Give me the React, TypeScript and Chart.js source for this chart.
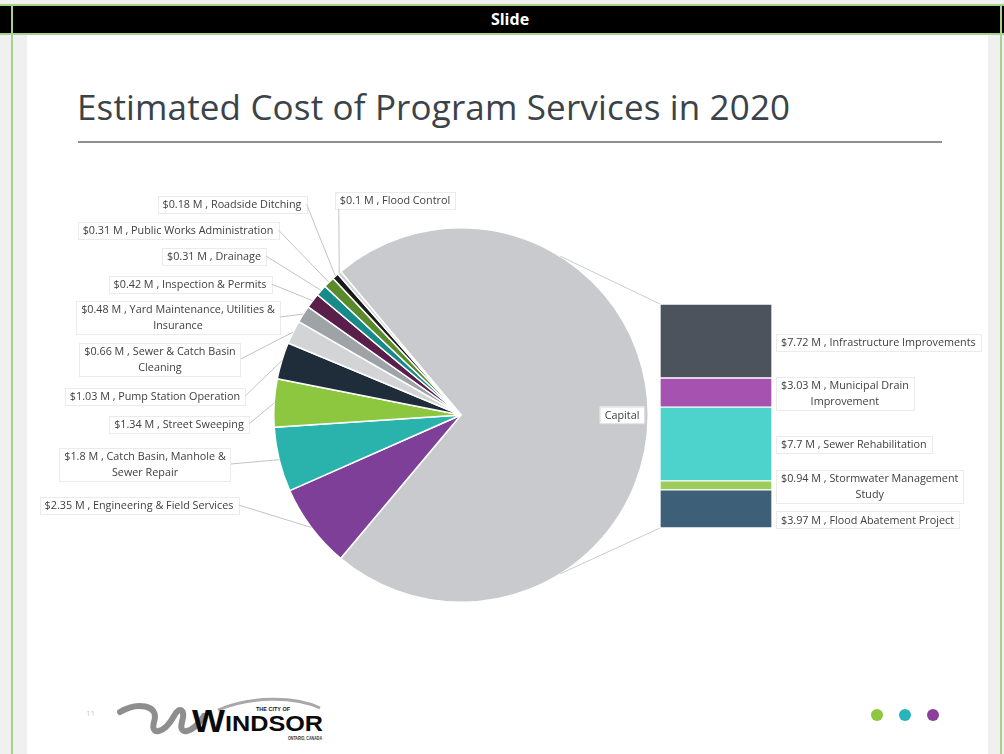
import React, { useEffect, useRef } from "react";
import { Chart, registerables } from "chart.js";

Chart.register(...registerables);

// ---------- DATA ----------
const programLabels = [
  "Engineering & Field Services",
  "Catch Basin, Manhole & Sewer Repair",
  "Street Sweeping",
  "Pump Station Operation",
  "Sewer & Catch Basin Cleaning",
  "Yard Maintenance, Utilities & Insurance",
  "Inspection & Permits",
  "Drainage",
  "Public Works Administration",
  "Roadside Ditching",
  "Flood Control",
];
const programValues = [2.35, 1.8, 1.34, 1.03, 0.66, 0.48, 0.42, 0.31, 0.31, 0.18, 0.1];

// bottom -> top in the stacked bar
const capitalLabels = [
  "Flood Abatement Project",
  "Stormwater Management Study",
  "Sewer Rehabilitation",
  "Municipal Drain Improvement",
  "Infrastructure Improvements",
];
const capitalValues = [3.97, 0.94, 7.7, 3.03, 7.72];
const capitalName = "Capital";

const capitalTotal = capitalValues.reduce((a, b) => a + b, 0);
const pieLabels = [capitalName, ...programLabels];
const pieValues = [capitalTotal, ...programValues];

// ---------- STYLES / LAYOUT ----------
const pieColors = [
  "#c9cacd",
  "#7e3f98",
  "#2ab3ad",
  "#8dc63f",
  "#1f2d3b",
  "#d3d4d6",
  "#9ea3a8",
  "#5a1e4b",
  "#178a8a",
  "#5a8a2a",
  "#1b1b1b",
  "#cfd0d2",
];
const barColors = ["#3e5f78", "#9ccc5c", "#4dd3cc", "#a652b0", "#4d535c"];

const LABEL_FONT = '10.8px "Open Sans"';
const TEXT_COLOR = "#404040";
const LEADER_COLOR = "#c3c3c3";
const BOX_PAD = 10;

// pie canvas placement on page
const PIE_LEFT = 27;
const PIE_TOP = 150;
const PIE_W = 961;
const PIE_H = 490;

// bar canvas placement on page
const BAR_CANVAS_LEFT = 660;
const BAR_CANVAS_TOP = 290;
const BAR_CANVAS_W = 328;
const BAR_CANVAS_H = 250;
const BAR_TOP = 304;
const BAR_BOTTOM = 528;

// label boxes for program slices (page coords): centre x, centre y, words on 2nd line, anchor side
const pieLabelLayout = [
  { cx: 139, cy: 505, wrap: 0, anchor: "right" },
  { cx: 145, cy: 464, wrap: 2, anchor: "right" },
  { cx: 179, cy: 424, wrap: 0, anchor: "right" },
  { cx: 155, cy: 396, wrap: 0, anchor: "right" },
  { cx: 160, cy: 359, wrap: 1, anchor: "right" },
  { cx: 178, cy: 317, wrap: 1, anchor: "right" },
  { cx: 190, cy: 284, wrap: 0, anchor: "right" },
  { cx: 214, cy: 256, wrap: 0, anchor: "right" },
  { cx: 178, cy: 230, wrap: 0, anchor: "right" },
  { cx: 232, cy: 204, wrap: 0, anchor: "right" },
  { cx: 395, cy: 200, wrap: 0, anchor: "bottom" },
];
const barLabelOffsets = [11, 1, 0, 1, 1];
const barLabelWrap = [0, 1, 0, 1, 0];

function fmt(v: number, name: string) {
  return "$" + v + " M , " + name;
}

function splitLines(text: string, wrap: number) {
  if (!wrap) return [text];
  const words = text.split(" ");
  return [words.slice(0, words.length - wrap).join(" "), words.slice(words.length - wrap).join(" ")];
}

function drawBox(ctx: CanvasRenderingContext2D, lines: string[], cx: number, cy: number, align: "center" | "left") {
  ctx.save();
  ctx.font = LABEL_FONT;
  const lh = 16;
  const w = Math.max(...lines.map((l) => ctx.measureText(l).width)) + BOX_PAD;
  const h = lines.length * lh + 1;
  const left = align === "center" ? cx - w / 2 : cx;
  const top = cy - h / 2;
  ctx.fillStyle = "#ffffff";
  ctx.fillRect(left, top, w, h);
  ctx.strokeStyle = "#d6d6d6";
  ctx.lineWidth = 1;
  ctx.setLineDash([1, 1]);
  ctx.strokeRect(Math.round(left) + 0.5, Math.round(top) + 0.5, Math.round(w), Math.round(h));
  ctx.setLineDash([]);
  ctx.fillStyle = TEXT_COLOR;
  ctx.textAlign = "center";
  ctx.textBaseline = "middle";
  lines.forEach((l, i) => {
    ctx.fillText(l, left + w / 2, top + lh / 2 + 1 + i * lh);
  });
  ctx.restore();
  return { left, top, w, h };
}

const piePlugin = {
  id: "pieLabels",
  afterDraw(chart: any) {
    const ctx: CanvasRenderingContext2D = chart.ctx;
    const meta = chart.getDatasetMeta(0);
    const arcs = meta.data;
    const c0 = arcs[0].getProps(["x", "y", "outerRadius"], true);
    const cx = c0.x;
    const cy = c0.y;
    const r = c0.outerRadius;

    // series lines to the bar
    ctx.save();
    ctx.strokeStyle = "#c8ccd0";
    ctx.lineWidth = 1;
    const a = (58 * Math.PI) / 180;
    const bx = BAR_CANVAS_LEFT - PIE_LEFT;
    ctx.beginPath();
    ctx.moveTo(cx + r * Math.cos(-a), cy + r * Math.sin(-a));
    ctx.lineTo(bx, BAR_TOP - PIE_TOP);
    ctx.moveTo(cx + r * Math.cos(a), cy + r * Math.sin(a));
    ctx.lineTo(bx, BAR_BOTTOM - PIE_TOP);
    ctx.stroke();
    ctx.restore();

    // capital label inside slice
    const cap = arcs[0].getProps(["startAngle", "endAngle"], true);
    const cm = (cap.startAngle + cap.endAngle) / 2;
    drawBox(ctx, [capitalName], cx + r * 0.86 * Math.cos(cm), cy + r * 0.86 * Math.sin(cm), "center");

    // program labels with leader lines
    ctx.font = LABEL_FONT;
    programLabels.forEach((name, i) => {
      const arc = arcs[i + 1].getProps(["startAngle", "endAngle"], true);
      const mid = (arc.startAngle + arc.endAngle) / 2;
      const ex = cx + r * Math.cos(mid);
      const ey = cy + r * Math.sin(mid);
      const lay = pieLabelLayout[i];
      const lines = splitLines(fmt(programValues[i], name), lay.wrap);
      const w = Math.max(...lines.map((l) => ctx.measureText(l).width)) + BOX_PAD;
      const h = lines.length * 16 + 1;
      const bxc = lay.cx - PIE_LEFT;
      const byc = lay.cy - PIE_TOP;
      let ax = bxc + w / 2;
      let ay = byc;
      if (lay.anchor === "bottom") {
        ax = bxc - w / 2 + 4;
        ay = byc + h / 2;
      }
      ctx.save();
      ctx.strokeStyle = LEADER_COLOR;
      ctx.lineWidth = 1;
      ctx.beginPath();
      ctx.moveTo(ax, ay);
      ctx.lineTo(ex, ey);
      ctx.stroke();
      ctx.restore();
      drawBox(ctx, lines, bxc, byc, "center");
    });
  },
};

const barPlugin = {
  id: "barLabels",
  afterDraw(chart: any) {
    const ctx: CanvasRenderingContext2D = chart.ctx;
    capitalLabels.forEach((name, i) => {
      const el = chart.getDatasetMeta(i).data[0];
      const p = el.getProps(["x", "y", "base", "width"], true);
      const right = p.x + p.width / 2;
      const mid = (p.y + p.base) / 2 + barLabelOffsets[i];
      const lines = splitLines(fmt(capitalValues[i], name), barLabelWrap[i]);
      drawBox(ctx, lines, right + 4, mid, "left");
    });
  },
};

function PieChart() {
  const ref = useRef<HTMLCanvasElement>(null);
  useEffect(() => {
    const capDeg = (capitalTotal / pieValues.reduce((a, b) => a + b, 0)) * 360;
    const chart = new Chart(ref.current as HTMLCanvasElement, {
      type: "pie",
      data: {
        labels: pieLabels,
        datasets: [
          {
            data: pieValues,
            backgroundColor: pieColors,
            borderColor: "#ffffff",
            borderWidth: 1.5,
          },
        ],
      },
      options: {
        animation: false,
        responsive: true,
        maintainAspectRatio: false,
        rotation: 90 - capDeg / 2,
        events: [],
        layout: { padding: { left: 246, right: 339, top: 77, bottom: 37 } },
        plugins: { legend: { display: false }, tooltip: { enabled: false } },
      },
      plugins: [piePlugin],
    } as any);
    return () => chart.destroy();
  }, []);
  return (
    <div style={{ position: "absolute", left: PIE_LEFT, top: PIE_TOP, width: PIE_W, height: PIE_H }}>
      <canvas ref={ref} />
    </div>
  );
}

function BarChart() {
  const ref = useRef<HTMLCanvasElement>(null);
  useEffect(() => {
    const chart = new Chart(ref.current as HTMLCanvasElement, {
      type: "bar",
      data: {
        labels: [capitalName],
        datasets: capitalLabels.map((l, i) => ({
          label: l,
          data: [capitalValues[i]],
          backgroundColor: barColors[i],
          borderColor: "#ffffff",
          borderWidth: 1,
          borderSkipped: false,
          barPercentage: 1,
          categoryPercentage: 1,
        })),
      },
      options: {
        animation: false,
        responsive: true,
        maintainAspectRatio: false,
        events: [],
        layout: {
          padding: {
            left: 0,
            right: BAR_CANVAS_W - 112,
            top: BAR_TOP - BAR_CANVAS_TOP,
            bottom: BAR_CANVAS_TOP + BAR_CANVAS_H - BAR_BOTTOM,
          },
        },
        scales: {
          x: { stacked: true, display: false },
          y: { stacked: true, display: false, min: 0, max: capitalTotal },
        },
        plugins: { legend: { display: false }, tooltip: { enabled: false } },
      },
      plugins: [barPlugin],
    } as any);
    return () => chart.destroy();
  }, []);
  return (
    <div
      style={{
        position: "absolute",
        left: BAR_CANVAS_LEFT,
        top: BAR_CANVAS_TOP,
        width: BAR_CANVAS_W,
        height: BAR_CANVAS_H,
      }}
    >
      <canvas ref={ref} />
    </div>
  );
}

function Logo() {
  return (
    <svg width={230} height={52} style={{ position: "absolute", left: 110, top: 694 }} viewBox="0 0 230 52">
      <path
        d="M10 18 C 26 8, 50 10, 44 28 C 40 42, 54 40, 64 22 C 69 12, 76 15, 72 28 C 68 42, 82 40, 94 22"
        fill="none"
        stroke="#8e8e8e"
        strokeWidth={6}
        strokeLinecap="round"
      />
      <path d="M108 16 C 140 2, 185 2, 210 14" fill="none" stroke="#a8a8a8" strokeWidth={3} />
      <text x={146} y={17} fontFamily="Liberation Sans" fontSize={6} fontWeight="bold" fill="#111" textLength={34} lengthAdjust="spacingAndGlyphs">
        THE CITY OF
      </text>
      <text x={82} y={38} fontFamily="Liberation Sans" fontSize={32} fontWeight="bold" fill="#0a0a0a" textLength={33} lengthAdjust="spacingAndGlyphs">
        W
      </text>
      <text x={115} y={37} fontFamily="Liberation Sans" fontSize={22} fontWeight="bold" fill="#0a0a0a" textLength={98} lengthAdjust="spacingAndGlyphs">
        INDSOR
      </text>
      <text x={178} y={46} fontFamily="Liberation Sans" fontSize={5} fontWeight="bold" fill="#333" textLength={34} lengthAdjust="spacingAndGlyphs">
        ONTARIO, CANADA
      </text>
    </svg>
  );
}

export default function App() {
  const dot = (left: number, color: string) => (
    <div
      style={{
        position: "absolute",
        left: left - 6,
        top: 709,
        width: 12,
        height: 12,
        borderRadius: 6,
        background: color,
      }}
    />
  );
  return (
    <div
      style={{
        position: "fixed",
        left: 0,
        top: 0,
        width: 1004,
        height: 754,
        overflow: "hidden",
        background: "#f0f0f0",
        fontFamily: '"Open Sans", sans-serif',
      }}
    >
      {/* slide */}
      <div style={{ position: "absolute", left: 27, top: 35, width: 961, height: 719, background: "#ffffff" }} />
      {/* header */}
      <div
        style={{
          position: "absolute",
          left: 0,
          top: 4,
          width: 1004,
          height: 27,
          background: "#000",
          borderTop: "2px solid #a9d18e",
          borderBottom: "2px solid #a9d18e",
          color: "#fff",
          fontWeight: "bold",
          fontSize: 16,
          lineHeight: "27px",
          textAlign: "center",
          paddingLeft: 8,
          boxSizing: "content-box",
        }}
      >
        Slide
      </div>
      <div style={{ position: "absolute", left: 11, top: 4, width: 2, height: 750, background: "#a9d18e" }} />
      <div style={{ position: "absolute", left: 1000, top: 4, width: 2, height: 750, background: "#a9d18e" }} />

      {/* title */}
      <div
        style={{
          position: "absolute",
          left: 77,
          top: 83,
          fontSize: 35,
          color: "#3a4349",
          whiteSpace: "nowrap",
          letterSpacing: 0.15,
        }}
      >
        Estimated Cost of Program Services in 2020
      </div>
      <div style={{ position: "absolute", left: 78, top: 141, width: 864, height: 2, background: "#8f8f8f" }} />

      <PieChart />
      <BarChart />

      <div style={{ position: "absolute", left: 86, top: 707, fontSize: 8, color: "#c8c8c8" }}>11</div>
      <Logo />
      {dot(877, "#8dc63f")}
      {dot(905, "#2ab3b8")}
      {dot(933, "#8b3f98")}
    </div>
  );
}
